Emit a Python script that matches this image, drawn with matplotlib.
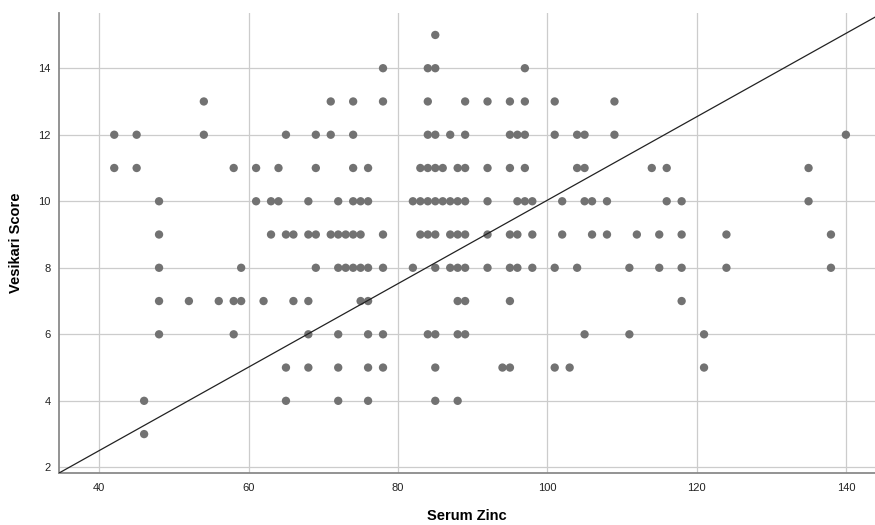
import matplotlib
matplotlib.use("Agg")
import matplotlib.pyplot as plt

# points, one row per Vesikari score
zinc = [
    85,
    78, 84, 85, 97,
    54, 71, 74, 78, 84, 89, 92, 95, 97, 101, 109,
    42, 45, 54, 65, 69, 71, 74, 84, 85, 87, 89, 95, 96, 97, 101, 104, 105, 109, 140,
    42, 45, 58, 61, 64, 69, 74, 76, 83, 84, 85, 86, 88, 89, 92, 95, 97, 104, 105, 114, 116, 135,
    48, 61, 63, 64, 68, 72, 74, 75, 76, 82, 83, 84, 85, 86, 87, 88, 89, 92, 96, 97, 98, 102, 105, 106, 108, 116, 118, 135,
    48, 63, 65, 66, 68, 69, 71, 72, 73, 74, 75, 78, 83, 84, 85, 87, 88, 89, 92, 95, 96, 98, 102, 106, 108, 112, 115, 118, 124, 138,
    48, 59, 69, 72, 73, 74, 75, 76, 78, 82, 85, 87, 88, 89, 92, 95, 96, 98, 101, 104, 111, 115, 118, 124, 138,
    48, 52, 56, 58, 59, 62, 66, 68, 75, 76, 88, 89, 95, 118,
    48, 58, 68, 72, 76, 78, 84, 85, 88, 89, 105, 111, 121,
    65, 68, 72, 76, 78, 85, 94, 95, 101, 103, 121,
    46, 65, 72, 76, 85, 88,
    46,
]
score = ([15] * 1 + [14] * 4 + [13] * 11 + [12] * 19 + [11] * 22 + [10] * 28
         + [9] * 30 + [8] * 25 + [7] * 14 + [6] * 13 + [5] * 11 + [4] * 6 + [3] * 1)

# fit line
slope = 0.1254
intercept = -2.51

xticks = [40, 60, 80, 100, 120, 140]
yticks = [2, 4, 6, 8, 10, 12, 14]

plt.rcParams['font.family'] = ['Liberation Sans', 'DejaVu Sans']

fig = plt.figure(figsize=(8.75, 5.25), dpi=100)
ax = fig.add_axes([59 / 875, 52 / 525, 816 / 875, 460 / 525])

ax.scatter(zinc, score, s=36, color='#727272', edgecolors='none', zorder=3)
ax.axline((0, intercept), slope=slope, color='#222222', lw=0.9, zorder=4)

ax.set_xlim(34.6, 143.9)
ax.set_ylim(1.83, 15.66)
ax.set_xticks(xticks)
ax.set_yticks(yticks)
ax.grid(True, color='#cccccc', lw=0.9, zorder=0)
ax.set_axisbelow(True)

for side in ['top', 'right']:
    ax.spines[side].set_visible(False)
for side in ['left', 'bottom']:
    ax.spines[side].set_color('#8a8a8a')
    ax.spines[side].set_linewidth(1.3)

ax.tick_params(axis='both', length=0, labelsize=8, colors='#222222')
ax.tick_params(axis='x', pad=7)
ax.tick_params(axis='y', pad=6)

ax.set_xlabel('Serum Zinc', fontsize=10.5, fontweight='bold', labelpad=12)
ax.set_ylabel('Vesikari Score', fontsize=10.5, fontweight='bold', labelpad=11)

fig.savefig('out.png', dpi=100)
